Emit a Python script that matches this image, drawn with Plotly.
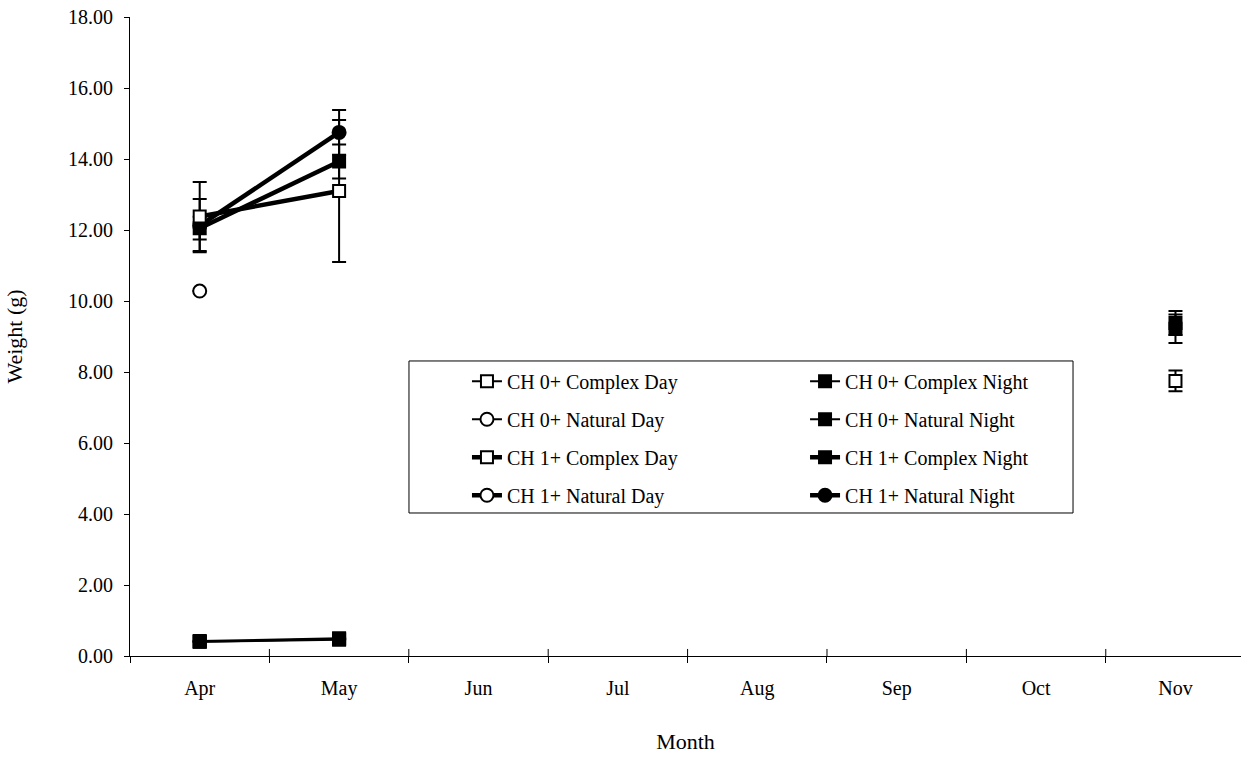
import plotly.graph_objects as go

months = ["Apr", "May", "Jun", "Jul", "Aug", "Sep", "Oct", "Nov"]

# Mean weights (g) per month; None where no sample was taken
ch0_complex_day = [0.40, 0.48, None, None, None, None, None, 7.75]
ch0_complex_day_err = [None, None, None, None, None, None, None, 0.29]
ch0_complex_night = [0.42, 0.50, None, None, None, None, None, 9.38]
ch0_complex_night_err = [None, None, None, None, None, None, None, 0.34]
ch0_natural_day = [10.28, None, None, None, None, None, None, None]
ch0_natural_day_err = [None, None, None, None, None, None, None, None]
ch0_natural_night = [0.40, 0.46, None, None, None, None, None, 9.22]
ch0_natural_night_err = [None, None, None, None, None, None, None, 0.40]
ch1_complex_day = [12.38, 13.10, None, None, None, None, None, None]
ch1_complex_day_err = [0.97, 2.00, None, None, None, None, None, None]
ch1_complex_night = [12.05, 13.93, None, None, None, None, None, None]
ch1_complex_night_err = [0.32, 0.48, None, None, None, None, None, None]
ch1_natural_day = [None, None, None, None, None, None, None, None]
ch1_natural_day_err = [None, None, None, None, None, None, None, None]
ch1_natural_night = [12.12, 14.75, None, None, None, None, None, None]
ch1_natural_night_err = [0.75, 0.63, None, None, None, None, None, None]

FONT = "Liberation Serif, Times New Roman, serif"
THIN, THICK = 2, 4.5

# drawn in this order; legend column and rank set where each entry is listed
# name, values, errors, symbol, fill, line width, legend column, legend rank
series = [
    ("CH 0+ Complex Day", ch0_complex_day, ch0_complex_day_err, "square", "white", THIN, "legend", 1),
    ("CH 0+ Natural Day", ch0_natural_day, ch0_natural_day_err, "circle", "white", THIN, "legend", 2),
    ("CH 1+ Natural Day", ch1_natural_day, ch1_natural_day_err, "circle", "white", THICK, "legend", 4),
    ("CH 0+ Complex Night", ch0_complex_night, ch0_complex_night_err, "square", "black", THIN, "legend2", 1),
    ("CH 0+ Natural Night", ch0_natural_night, ch0_natural_night_err, "square", "black", THIN, "legend2", 2),
    ("CH 1+ Complex Night", ch1_complex_night, ch1_complex_night_err, "square", "black", THICK, "legend2", 3),
    ("CH 1+ Natural Night", ch1_natural_night, ch1_natural_night_err, "circle", "black", THICK, "legend2", 4),
    ("CH 1+ Complex Day", ch1_complex_day, ch1_complex_day_err, "square", "white", THICK, "legend", 3),
]

fig = go.Figure()
for name, vals, errs, sym, fill, lw, leg, rank in series:
    fig.add_trace(go.Scatter(
        x=months, y=vals, name=name, mode="lines+markers",
        line=dict(color="black", width=lw),
        marker=dict(symbol=sym, size=12 if sym == "square" else 13, color=fill,
                    line=dict(color="black", width=2)),
        error_y=dict(type="data", array=errs, visible=True, color="black",
                     thickness=2, width=7),
        connectgaps=False, legend=leg, legendgroup=name, legendrank=rank,
    ))

# legend frame
fig.add_shape(type="rect", xref="paper", yref="paper",
              x0=0.2511, x1=0.8488, y0=0.2238, y1=0.4617,
              line=dict(color="black", width=1), fillcolor="rgba(0,0,0,0)", layer="below")

# tick marks crossing the category axis at the month boundaries
for i in range(1, len(months)):
    fig.add_shape(type="line", xref="x", yref="paper", x0=i - 0.5, x1=i - 0.5,
                  y0=0, y1=0.011, line=dict(color="black", width=1))

legend_common = dict(
    font=dict(family=FONT, size=20, color="black"),
    bgcolor="rgba(0,0,0,0)", borderwidth=0,
    traceorder="grouped", tracegroupgap=9,
    xanchor="left", yanchor="top", itemwidth=30,
)

fig.update_layout(
    width=1241, height=760,
    margin=dict(l=130, r=0, t=17, b=104),
    paper_bgcolor="white", plot_bgcolor="white",
    font=dict(family=FONT, size=20, color="black"),
    showlegend=True,
    legend=dict(x=0.3033, y=0.4605, **legend_common),
    legend2=dict(x=0.6076, y=0.4605, **legend_common),
    xaxis=dict(
        type="category", categoryorder="array", categoryarray=months,
        range=[-0.5, 7.47], showline=True, linecolor="black", linewidth=1,
        ticks="outside", ticklen=6, tickcolor="black", tickson="boundaries",
        ticklabelstandoff=14,
        showgrid=False, zeroline=False,
        title=dict(text="Month", font=dict(family=FONT, size=22), standoff=34),
        tickfont=dict(family=FONT, size=20),
    ),
    yaxis=dict(
        range=[0, 18], dtick=2, tickformat=".2f", showline=True,
        linecolor="black", linewidth=1, ticks="outside", ticklen=5,
        tickcolor="black", showgrid=False, zeroline=False,
        ticklabelstandoff=7,
        title=dict(text="Weight (g)", font=dict(family=FONT, size=22), standoff=39),
        tickfont=dict(family=FONT, size=20),
    ),
)

fig.write_html("out.html")
